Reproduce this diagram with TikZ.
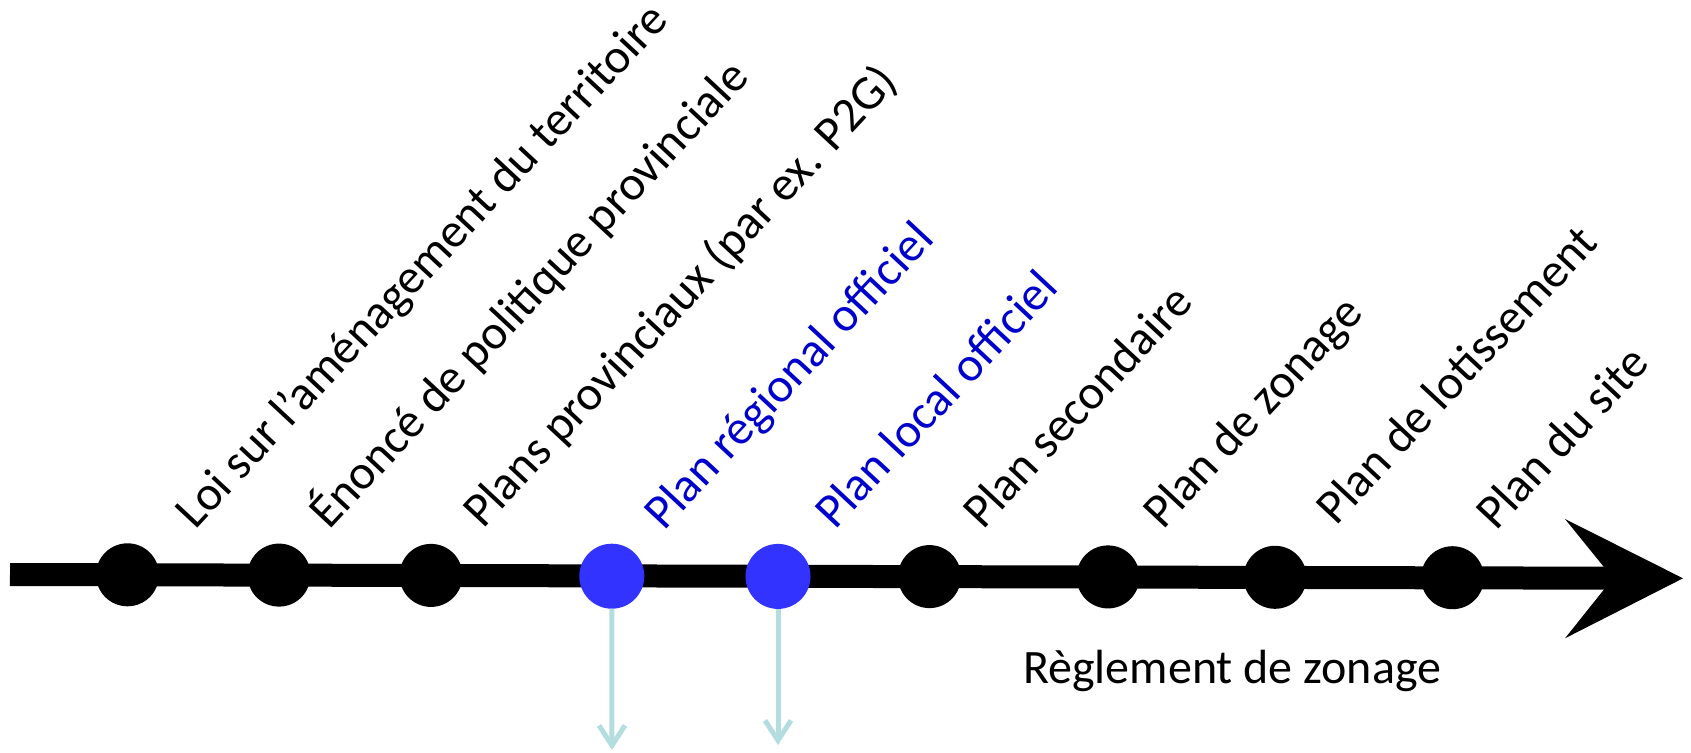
\documentclass[tikz,border=0pt]{standalone}
\usepackage{fontspec}
\setmainfont{Carlito}
\usetikzlibrary{arrows.meta}
\definecolor{dotblue}{RGB}{51,51,255}
\definecolor{txtblue}{RGB}{0,0,204}
\definecolor{flowblue}{RGB}{180,221,224}
\tikzset{
  lbl/.style={anchor=base west, rotate=47, inner sep=0pt, font=\fontsize{48.5}{58}\selectfont, text=black},
  bluelbl/.style={lbl, text=txtblue},
  bdot/.style={circle, fill=black, inner sep=0pt, minimum size=63pt},
  udot/.style={circle, fill=dotblue, inner sep=0pt, minimum size=65pt},
  flow/.style={draw=flowblue, line width=5pt, -{Straight Barb[length=20pt,width=26pt]}},
  axis/.style={line width=23pt, black}
}
\begin{document}
\begin{tikzpicture}[x=1pt,y=-1pt]
\useasboundingbox (0,0) rectangle (1691,752);
% axis
\coordinate (start) at (10,574.5);
\coordinate (notch) at (1613,578.2);
\coordinate (tip) at (1683,578.3);
\draw[axis] (start) -- (notch);
\fill[black] (tip) -- (1565,519) -- (notch) -- (1565,638.3) -- cycle;
% dots
\node[bdot] (d1) at (127.5,574.8) {};
\node[bdot] (d2) at (279,575.1) {};
\node[bdot] (d3) at (431,575.4) {};
\node[udot] (d4) at (611.8,576.2) {};
\node[udot] (d5) at (778,576.4) {};
\node[bdot] (d6) at (929.5,576.6) {};
\node[bdot] (d7) at (1108,576.9) {};
\node[bdot] (d8) at (1275,577.3) {};
\node[bdot] (d9) at (1452.5,577.7) {};
% labels
\node[lbl] (t1) at (195,531) {Loi sur l’aménagement du territoire};
\node[lbl] (t2) at (329,531) {Énoncé de politique provinciale};
\node[lbl] (t3) at (483,530) {Plans provinciaux (par ex. P2G)};
\node[bluelbl] (t4) at (664,532) {Plan régional officiel};
\node[bluelbl] (t5) at (835,531) {Plan local officiel};
\node[lbl] (t6) at (983,531) {Plan secondaire};
\node[lbl] (t7) at (1163,531) {Plan de zonage};
\node[lbl] (t8) at (1336,527) {Plan de lotissement};
\node[lbl] (t9) at (1496,532) {Plan du site};
\node[anchor=base west, inner sep=0pt, font=\fontsize{48}{57}\selectfont] (rz) at (1023,683) {Règlement de zonage};
% downward arrows
\coordinate (e4) at (612,750);
\coordinate (e5) at (778,745);
\draw[flow] (d4) -- (e4);
\draw[flow] (d5) -- (e5);
\end{tikzpicture}
\end{document}
